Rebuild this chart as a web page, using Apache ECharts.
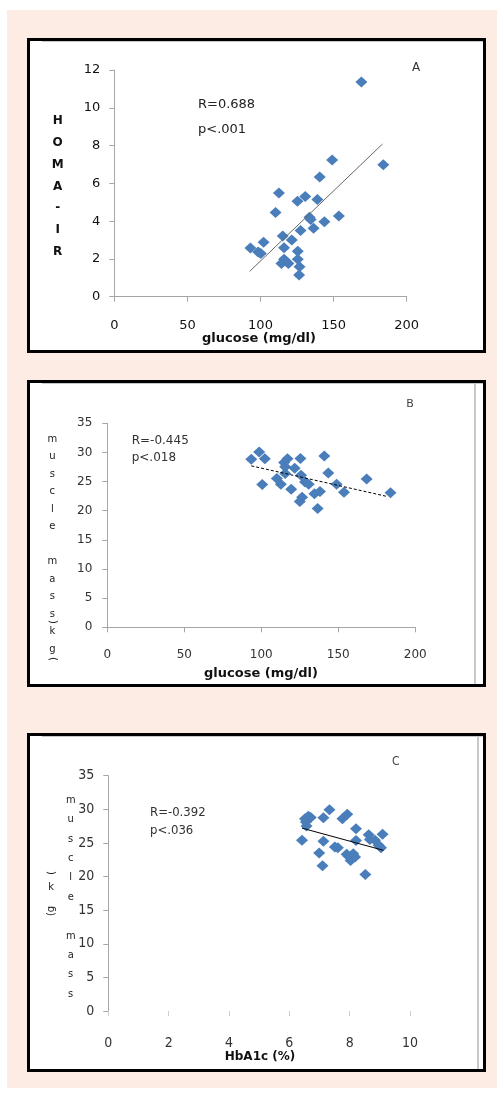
<!DOCTYPE html>
<html><head><meta charset="utf-8">
<script src="https://cdn.jsdelivr.net/npm/echarts@6/dist/echarts.min.js"></script>
<style>
html,body{margin:0;padding:0;background:#fff;}
#bg{position:absolute;left:7px;top:10px;width:490px;height:1078px;background:#fdece3;}
.panel{position:absolute;left:27px;width:453px;background:#fff;border:3px solid #000;}
.gl{position:absolute;background:#c8c8c8;}
#chart{position:absolute;left:0;top:0;width:497px;height:1093px;}
</style></head>
<body>
<div id="bg"></div>
<div class="panel" style="top:38px;height:309px"></div>
<div class="panel" style="top:380px;height:301px"></div>
<div class="panel" style="top:733px;height:333px"></div>
<div class="gl" style="left:42px;top:41px;width:441px;height:1px"></div>
<div class="gl" style="left:42px;top:383px;width:441px;height:1px"></div>
<div class="gl" style="left:474px;top:383px;width:2px;height:301px"></div>
<div class="gl" style="left:42px;top:736px;width:441px;height:1px"></div>
<div class="gl" style="left:477px;top:736px;width:2px;height:333px"></div>
<div id="chart"></div>
<script>
// Panel A: glucose vs HOMA-IR
const aGlucose=[169,184,149,140.5,112.6,130.6,125.3,138.9,110.3,153.6,134.3,143.7,136.3,127.4,115.2,121.4,102.1,93.1,98.4,100.2,116.1,125.5,116.1,114.3,119.1,125.5,126.7,126.4,117.2,133.5];
const aHoma=[11.36,6.99,7.23,6.33,5.49,5.31,5.05,5.14,4.46,4.27,4.09,3.97,3.62,3.51,3.21,3.0,2.88,2.58,2.36,2.29,2.59,2.40,1.98,1.76,1.76,1.98,1.59,1.15,1.89,4.2];
const aTrendX=[92.6,183.4], aTrendY=[1.34,8.08];
// Panel B: glucose vs muscle mass
const bGlucose=[93.5,98.6,102.3,100.6,110.1,112.7,114.8,117.0,115.5,115.5,119.4,121.7,125.4,125.8,128.4,130.8,126.5,125.0,134.5,138.1,140.9,143.5,148.9,153.7,136.6,168.4,183.9];
const bMuscle=[28.85,30.06,28.9,24.48,25.52,24.54,28.28,28.9,27.53,26.38,23.68,27.3,28.97,26.09,24.94,24.54,22.3,21.6,22.93,23.28,29.37,26.49,24.54,23.16,20.4,25.46,23.1];
const bTrendX=[93.5,181.3], bTrendY=[27.7,22.47];
// Panel C: HbA1c vs muscle mass
const cHba1c=[6.42,6.52,6.57,6.63,6.71,6.55,7.13,7.13,6.99,7.1,7.33,7.51,7.61,7.76,7.92,8.21,8.21,7.96,8.03,8.18,7.9,8.52,8.63,8.67,8.84,8.96,9.09,9.04,8.12];
const cMuscle=[25.4,28.6,27.5,28.96,28.8,28.1,28.76,25.25,23.5,21.6,29.95,24.4,24.3,28.6,29.26,27.1,25.35,23.0,22.4,22.9,23.3,20.3,26.2,25.5,25.4,24.65,26.3,24.3,23.4];
const cTrendX=[6.42,9.12], cTrendY=[27.2,23.9];

const zip=(a,b)=>a.map((v,i)=>[v,b[i]]);
const blue='#4a7ebb';
const axisGray='#a6a6a6';
const NARROW='"DejaVu Sans Condensed","Liberation Sans",sans-serif';

function xAx(gi,max,interval,font,color,margin,showLine){
  return {type:'value',gridIndex:gi,min:0,max:max,interval:interval,
    splitLine:{show:false},
    axisLine:{show:showLine,onZero:false,lineStyle:{color:axisGray,width:1}},
    axisTick:{show:true,length:5,lineStyle:{color:showLine?axisGray:'#cfcfcf'}},
    axisLabel:{margin:margin,fontFamily:font.family,fontSize:font.size,color:color}};
}
function yAx(gi,max,interval,font,color,margin){
  return {type:'value',gridIndex:gi,min:0,max:max,interval:interval,
    splitLine:{show:false},
    axisLine:{show:true,onZero:false,lineStyle:{color:axisGray,width:1}},
    axisTick:{show:true,length:5,lineStyle:{color:axisGray}},
    axisLabel:{margin:margin,fontFamily:font.family,fontSize:font.size,color:color}};
}
function scat(gi,data){
  return {type:'scatter',xAxisIndex:gi,yAxisIndex:gi,data:data,symbol:'diamond',symbolSize:[12,11],
    itemStyle:{color:blue,opacity:1},silent:true,z:3};
}
function trend(gi,data,color,type){
  return {type:'line',xAxisIndex:gi,yAxisIndex:gi,data:data,symbol:'none',silent:true,z:4,
    lineStyle:{color:color,width:1,type:type}};
}
function txt(x,y,text,font,fill,align,extra){
  return Object.assign({type:'text',x:x,y:y,silent:true,z:10,
    style:{text:text,font:font,fill:fill,align:align||'left',verticalAlign:'middle',
      textAlign:align||'left',textVerticalAlign:'middle'}},extra||{});
}
function stack(x,yFirst,text,font,fill,lh){
  return {type:'text',x:x,y:yFirst-lh/2,silent:true,z:10,
    style:{text:text,font:font,fill:fill,align:'center',verticalAlign:'top',
      textAlign:'center',textVerticalAlign:'top',lineHeight:lh}};
}

const chart=echarts.init(document.getElementById('chart'),null,{renderer:'canvas'});
const fA={family:'DejaVu Sans',size:13};
const fB={family:'DejaVu Sans',size:12};
const fC={family:NARROW,size:14};
chart.setOption({
  backgroundColor:'transparent',
  animation:false,
  grid:[
    {left:114.3,top:70,width:292.4,height:226.7,outerBoundsMode:'none',containLabel:false},
    {left:107.3,top:423.3,width:308,height:204,outerBoundsMode:'none',containLabel:false},
    {left:108.3,top:775.7,width:301.7,height:235.3,outerBoundsMode:'none',containLabel:false}
  ],
  xAxis:[
    xAx(0,200,50,fA,'#111',22,true),
    xAx(1,200,50,fB,'#333',22,true),
    xAx(2,10,2,fC,'#333',25,false)
  ],
  yAxis:[
    yAx(0,12,2,fA,'#111',14),
    yAx(1,35,5,fB,'#333',15),
    yAx(2,35,5,fC,'#333',14)
  ],
  series:[
    scat(0,zip(aGlucose,aHoma)),
    trend(0,zip(aTrendX,aTrendY),'#666','solid'),
    scat(1,zip(bGlucose,bMuscle)),
    trend(1,zip(bTrendX,bTrendY),'#000',[3,2]),
    scat(2,zip(cHba1c,cMuscle)),
    trend(2,zip(cTrendX,cTrendY),'#000','solid')
  ],
  graphic:[
    // Panel A texts
    txt(416,67.7,'A','12px DejaVu Sans','#333','center'),
    txt(198,105,'R=0.688','13px DejaVu Sans','#222','left'),
    txt(198,130,'p<.001','13px DejaVu Sans','#222','left'),
    txt(259,339,'glucose (mg/dl)','bold 13px DejaVu Sans','#111','center'),
    stack(57.7,120.7,'H\nO\nM\nA\n-\nI\nR','bold 12px DejaVu Sans','#111',21.9),
    // Panel B texts
    txt(410,404,'B','11px DejaVu Sans','#444','center'),
    txt(131.7,441,'R=-0.445','12px DejaVu Sans','#333','left'),
    txt(131.7,458.3,'p<.018','12px DejaVu Sans','#333','left'),
    txt(261,673.3,'glucose (mg/dl)','bold 13px DejaVu Sans','#111','center'),
    stack(52.3,439.3,'m\nu\ns\nc\nl\ne\n\nm\na\ns\ns\nk\ng','10px DejaVu Sans','#222',17.5),
    txt(52.3,622,')','10px DejaVu Sans','#222','center',{rotation:-Math.PI/2}),
    txt(52.3,659,'(','10px DejaVu Sans','#222','center',{rotation:-Math.PI/2}),
    // Panel C texts
    txt(395.7,762.3,'C','12px '+NARROW,'#444','center'),
    txt(150,812.3,'R=-0.392','13px '+NARROW,'#333','left'),
    txt(150,830.7,'p<.036','13px '+NARROW,'#333','left'),
    txt(260,1057,'HbA1c (%)','bold 12px DejaVu Sans','#111','center'),
    stack(70.7,800,'m\nu\ns\nc\nl\ne\n\nm\na\ns\ns','11px '+NARROW,'#222',19.4),
    txt(51,873,')','11px '+NARROW,'#222','center',{rotation:-Math.PI/2}),
    txt(51,887,'k','11px '+NARROW,'#222','center'),
    txt(51,911,'(g','11px '+NARROW,'#222','center',{rotation:Math.PI/2})
  ]
});
</script>
</body></html>
